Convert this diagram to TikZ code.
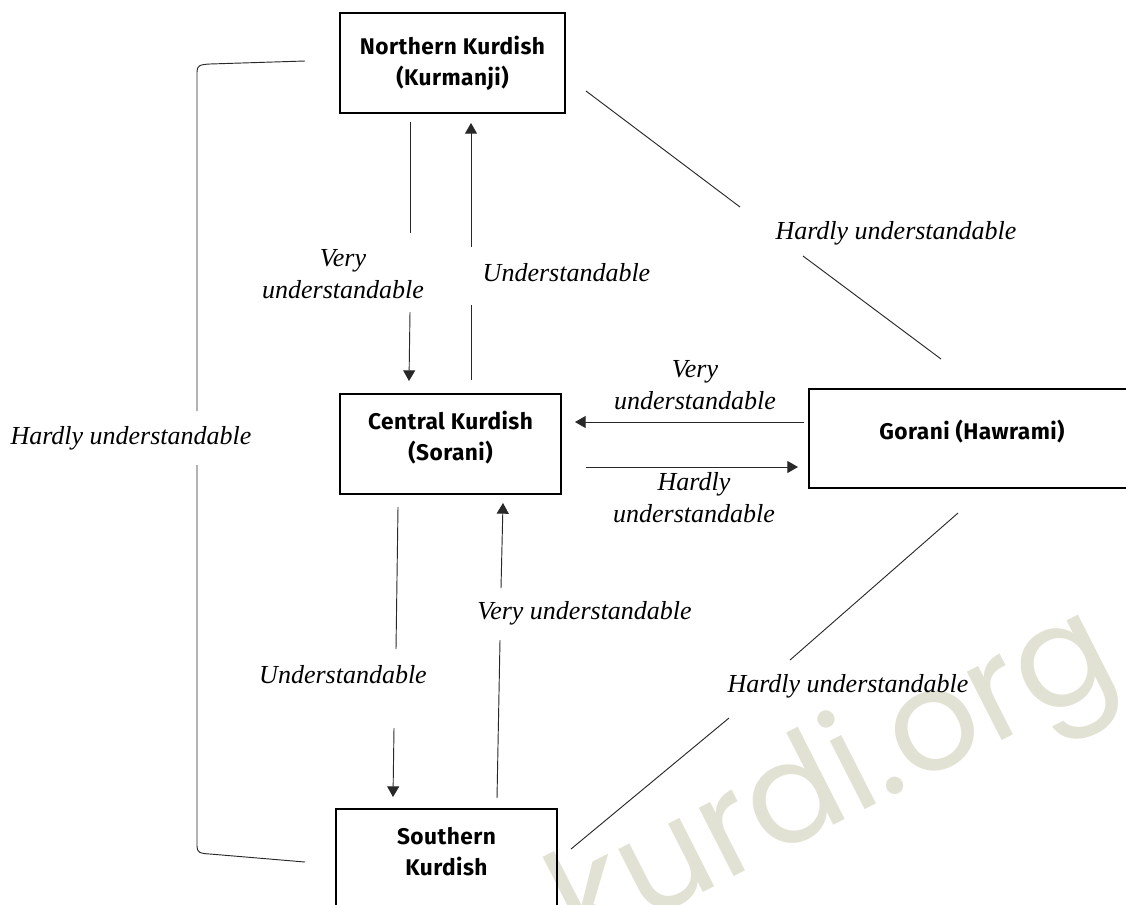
\documentclass[tikz,border=0pt]{standalone}
\usepackage{fontspec}
\setmainfont{Liberation Serif}
\newfontfamily\boxfont{Fira Sans}[LetterSpace=2]
\newfontfamily\wmfont{Poppins}
\usetikzlibrary{arrows.meta}
\definecolor{wmcol}{RGB}{226,226,212}
\definecolor{linecol}{RGB}{40,40,40}
\begin{document}
\begin{tikzpicture}[x=0.75pt,y=-0.75pt,
  langbox/.style={draw=black, line width=1.4pt, align=center, inner sep=0pt,
    font=\boxfont\bfseries\fontsize{17}{23.25}\selectfont},
  lab/.style={font=\itshape\fontsize{19.5}{24}\selectfont, align=center, inner sep=0pt},
  conn/.style={draw=linecol, line width=0.7pt},
  arr/.style={conn, -{Triangle[length=8pt,width=9pt]}},
  wm/.style={text=wmcol, font=\wmfont\fontsize{105}{105}\selectfont, inner sep=0pt}
]
\clip (0,0) rectangle (1126,904);
\fill[white] (0,0) rectangle (1126,904);

% watermark
\node[wm, rotate=27] (wmark) at (836,786) {kurdi.org};

% language boxes
\node[langbox, minimum width=168.75pt, minimum height=75pt] (N) at (452.5,63) {Northern Kurdish\\(Kurmanji)};
\node[langbox, minimum width=165.75pt, minimum height=75pt, text depth=12.5pt] (C) at (450.5,444) {Central Kurdish\\(Sorani)};
\node[langbox, minimum width=244.5pt, minimum height=74.25pt, text depth=12.5pt] (G) at (972,438.5) {Gorani (Hawrami)};
\node[langbox, minimum width=165.75pt, minimum height=75pt, text depth=11pt] (S) at (446.5,859) {Southern\\Kurdish};

% connector end points
\coordinate (ncA1) at (410,122); \coordinate (ncA2) at (410,233);
\coordinate (ncA3) at (410,312); \coordinate (ncA4) at (409,381);
\coordinate (cnB1) at (471,380); \coordinate (cnB2) at (471,305);
\coordinate (cnB3) at (471,247); \coordinate (cnB4) at (471,123);
\coordinate (gc1) at (804,422); \coordinate (gc2) at (575,422);
\coordinate (cg1) at (586,467); \coordinate (cg2) at (798,467);
\coordinate (csA1) at (398,507); \coordinate (csA2) at (396,649);
\coordinate (csA3) at (394,728); \coordinate (csA4) at (393,797);
\coordinate (scB1) at (497,798); \coordinate (scB2) at (500,640);
\coordinate (scB3) at (501,588); \coordinate (scB4) at (503,503);
\coordinate (ng1) at (586,91); \coordinate (ng2) at (740,207);
\coordinate (ng3) at (803,256); \coordinate (ng4) at (941,359);
\coordinate (sg1) at (571,849); \coordinate (sg2) at (729,718);
\coordinate (sg3) at (790,660); \coordinate (sg4) at (958,513);
\coordinate (brT) at (305,61); \coordinate (brB) at (305,862);
\coordinate (brM1) at (197,411); \coordinate (brM2) at (197,465);

% Northern <-> Central
\draw[conn] (ncA1) -- (ncA2);
\draw[arr] (ncA3) -- (ncA4);
\draw[conn] (cnB1) -- (cnB2);
\draw[arr] (cnB3) -- (cnB4);
% Central <-> Gorani
\draw[arr] (gc1) -- (gc2);
\draw[arr] (cg1) -- (cg2);
% Central <-> Southern
\draw[conn] (csA1) -- (csA2);
\draw[arr] (csA3) -- (csA4);
\draw[conn] (scB1) -- (scB2);
\draw[arr] (scB3) -- (scB4);
% diagonals to Gorani
\draw[conn] (ng1) -- (ng2);
\draw[conn] (ng3) -- (ng4);
\draw[conn] (sg1) -- (sg2);
\draw[conn] (sg3) -- (sg4);
% bracket Northern - Southern
\draw[conn] (brT) -- (210,64) .. controls (199,64.5) and (197,66) .. (197,72) -- (brM1);
\draw[conn] (brM2) -- (197,846) .. controls (197,852) and (199,853.5) .. (210,854) -- (brB);

% labels
\node[lab] (l1) at (343,274) {Very\\understandable};
\node[lab] (l2) at (566.5,273) {Understandable};
\node[lab] (l3) at (896,233) {Hardly understandable};
\node[lab] (l4) at (695,385) {Very\\understandable};
\node[lab] (l5) at (694,498) {Hardly\\understandable};
\node[lab] (l6) at (131,438) {Hardly understandable};
\node[lab] (l7) at (343,675) {Understandable};
\node[lab] (l8) at (584.5,613) {Very understandable};
\node[lab] (l9) at (848,686) {Hardly understandable};
\end{tikzpicture}
\end{document}
